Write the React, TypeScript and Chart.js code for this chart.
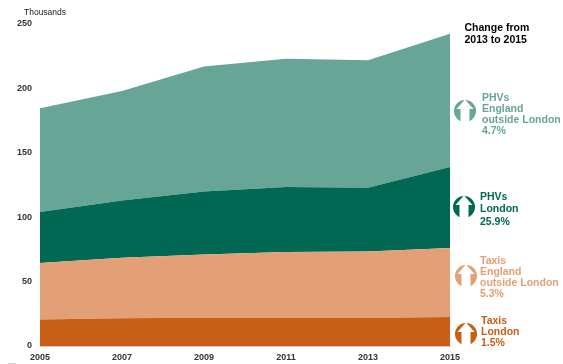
import React, { useEffect, useRef } from "react";
import { Chart, registerables } from "chart.js";

Chart.register(...registerables);

const years = ["2005", "2007", "2009", "2011", "2013", "2015"];
const taxisLondon = [20.5, 21.5, 22, 22, 21.8, 22.5];
const taxisEngland = [44, 47, 49, 51, 51.5, 53.5];
const phvLondon = [39.5, 44.5, 49, 50.5, 49.5, 63];
const phvEngland = [80.5, 85, 97, 99.5, 99, 103.5];
const yTicks = [0, 50, 100, 150, 200, 250];

const colTaxiLon = "#c85f14";
const colTaxiEng = "#e3a076";
const colPhvLon = "#006853";
const colPhvEng = "#67a597";

type Note = { lines: string[]; color: string; tx: number; ty: number; cx: number; cy: number; lh: number };
const notes: Note[] = [
  { lines: ["PHVs", "England", "outside London", "4.7%"], color: colPhvEng, tx: 482, ty: 92, cx: 465, cy: 111, lh: 11 },
  { lines: ["PHVs", "London", "25.9%"], color: colPhvLon, tx: 480, ty: 189.5, cx: 464, cy: 207, lh: 12.5 },
  { lines: ["Taxis", "England", "outside London", "5.3%"], color: colTaxiEng, tx: 480, ty: 254.5, cx: 466, cy: 276, lh: 11 },
  { lines: ["Taxis", "London", "1.5%"], color: colTaxiLon, tx: 481, ty: 315, cx: 465.5, cy: 333.5, lh: 11 },
];

function ArrowBadge({ color, cx, cy }: { color: string; cx: number; cy: number }) {
  return (
    <svg width={24} height={26} viewBox="0 0 24 26" style={{ position: "absolute", left: cx - 12, top: cy - 13 }}>
      <circle cx={12} cy={13} r={11} fill={color} />
      <path d="M12 1.5 L20.5 11 L16.5 11 L16.5 25 L7.5 25 L7.5 11 L3.5 11 Z" fill="#fff" />
    </svg>
  );
}

export default function App() {
  const ref = useRef<HTMLCanvasElement>(null);
  useEffect(() => {
    const ctx = ref.current!;
    const area = (label: string, data: number[], color: string, fill: string | boolean) => ({
      label,
      data,
      backgroundColor: color,
      borderColor: color,
      borderWidth: 0,
      pointRadius: 0,
      tension: 0,
      fill,
    });
    const chart = new Chart(ctx, {
      type: "line",
      data: {
        labels: years,
        datasets: [
          area("Taxis London", taxisLondon, colTaxiLon, "origin"),
          area("Taxis England outside London", taxisEngland, colTaxiEng, "-1"),
          area("PHVs London", phvLondon, colPhvLon, "-1"),
          area("PHVs England outside London", phvEngland, colPhvEng, "-1"),
        ],
      },
      options: {
        animation: false,
        responsive: false,
        layout: { padding: { top: 24, right: 113, bottom: 0, left: 0 } },
        plugins: { legend: { display: false }, tooltip: { enabled: false } },
        scales: {
          x: {
            stacked: true,
            offset: false,
            grid: { display: false, drawTicks: false },
            border: { color: "#c9c9c4", width: 1 },
            afterFit: (s: any) => { s.height = 18; },
            ticks: {
              autoSkip: false,
              maxRotation: 0,
              padding: 6,
              color: "#333",
              font: { family: "Liberation Sans", size: 9, weight: "bold" },
            },
          },
          y: {
            stacked: true,
            min: 0,
            max: 250,
            afterFit: (s: any) => { s.width = 40; },
            afterBuildTicks: (s: any) => { s.ticks = yTicks.map((value) => ({ value })); },
            grid: { display: false, drawTicks: false },
            border: { display: false },
            ticks: {
              padding: 8,
              color: "#333",
              font: { family: "Liberation Sans", size: 9, weight: "bold" },
            },
          },
        },
      },
    });
    return () => chart.destroy();
  }, []);

  return (
    <div style={{ position: "absolute", left: 0, top: 0, width: 563, height: 364, background: "#fff", fontFamily: "'Liberation Sans', sans-serif", overflow: "hidden" }}>
      <canvas ref={ref} width={563} height={364} style={{ display: "block" }} />
      <div style={{ position: "absolute", left: 8, top: 363, width: 8, height: 1, background: "#c5d6d0" }} />
      <div style={{ position: "absolute", left: 24, top: 7, fontSize: 8.5, color: "#222" }}>Thousands</div>
      <div style={{ position: "absolute", left: 464.5, top: 21, fontSize: 10.5, lineHeight: "12px", fontWeight: "bold", color: "#000", whiteSpace: "nowrap" }}>
        <div>Change from</div>
        <div>2013 to 2015</div>
      </div>
      {notes.map((n) => (
        <React.Fragment key={n.lines.join()}>
          <ArrowBadge color={n.color} cx={n.cx} cy={n.cy} />
          <div style={{ position: "absolute", left: n.tx, top: n.ty, color: n.color, fontSize: 10.5, fontWeight: "bold", lineHeight: `${n.lh}px`, whiteSpace: "nowrap" }}>
            {n.lines.map((l) => <div key={l}>{l}</div>)}
          </div>
        </React.Fragment>
      ))}
    </div>
  );
}
